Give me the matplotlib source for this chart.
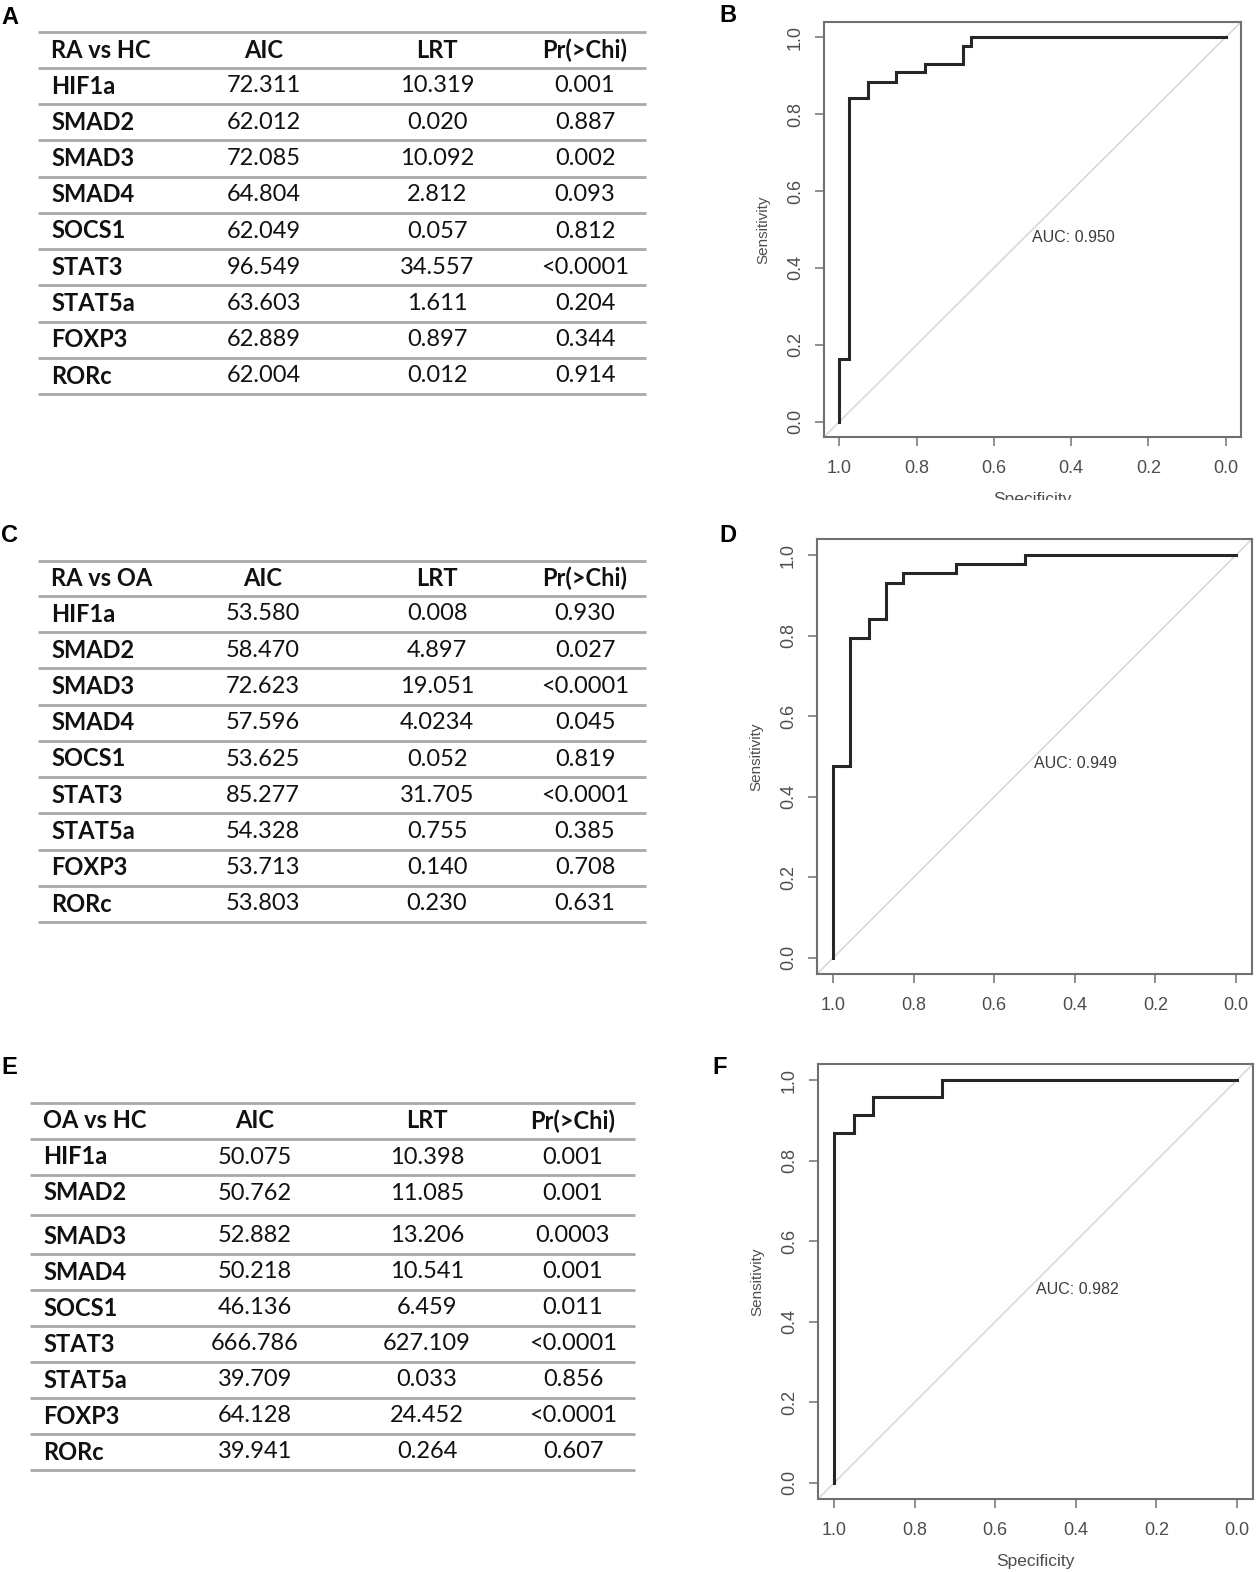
import matplotlib
matplotlib.use("Agg")
import matplotlib.pyplot as plt
from matplotlib.patches import Rectangle

W, H = 1260, 1572

# ---- table data ----
genes = ["HIF1a", "SMAD2", "SMAD3", "SMAD4", "SOCS1", "STAT3", "STAT5a", "FOXP3", "RORc"]
columns = ["AIC", "LRT", "Pr(>Chi)"]

aic_ra_hc = ["72.311", "62.012", "72.085", "64.804", "62.049", "96.549", "63.603", "62.889", "62.004"]
lrt_ra_hc = ["10.319", "0.020", "10.092", "2.812", "0.057", "34.557", "1.611", "0.897", "0.012"]
p_ra_hc = ["0.001", "0.887", "0.002", "0.093", "0.812", "<0.0001", "0.204", "0.344", "0.914"]

aic_ra_oa = ["53.580", "58.470", "72.623", "57.596", "53.625", "85.277", "54.328", "53.713", "53.803"]
lrt_ra_oa = ["0.008", "4.897", "19.051", "4.0234", "0.052", "31.705", "0.755", "0.140", "0.230"]
p_ra_oa = ["0.930", "0.027", "<0.0001", "0.045", "0.819", "<0.0001", "0.385", "0.708", "0.631"]

aic_oa_hc = ["50.075", "50.762", "52.882", "50.218", "46.136", "666.786", "39.709", "64.128", "39.941"]
lrt_oa_hc = ["10.398", "11.085", "13.206", "10.541", "6.459", "627.109", "0.033", "24.452", "0.264"]
p_oa_hc = ["0.001", "0.001", "0.0003", "0.001", "0.011", "<0.0001", "0.856", "<0.0001", "0.607"]

# ---- ROC step curves (specificity, sensitivity) ----
spec_b = [1.0, 1.0, 0.974, 0.974, 0.925, 0.925, 0.853, 0.853, 0.779, 0.779, 0.680, 0.680, 0.659, 0.659, 0.0]
sens_b = [0.0, 0.162, 0.162, 0.842, 0.842, 0.885, 0.885, 0.909, 0.909, 0.931, 0.931, 0.977, 0.977, 1.0, 1.0]
auc_b = 0.950

spec_d = [1.0, 1.0, 0.957, 0.957, 0.912, 0.912, 0.869, 0.869, 0.826, 0.826, 0.695, 0.695, 0.524, 0.524, 0.0]
sens_d = [0.0, 0.476, 0.476, 0.795, 0.795, 0.842, 0.842, 0.931, 0.931, 0.955, 0.955, 0.977, 0.977, 1.0, 1.0]
auc_d = 0.949

spec_f = [1.0, 1.0, 0.951, 0.951, 0.903, 0.903, 0.733, 0.733, 0.0]
sens_f = [0.0, 0.869, 0.869, 0.913, 0.913, 0.957, 0.957, 1.0, 1.0]
auc_f = 0.982

fig = plt.figure(figsize=(W / 100, H / 100), dpi=100)
fig.patch.set_facecolor("white")

# full-figure overlay in pixel units for tables and panel letters
base = fig.add_axes([0, 0, 1, 1])
base.set_xlim(0, W)
base.set_ylim(H, 0)
base.axis("off")

tfont = "Lato"
tsize = 17
line_col = "#a8a8a8"
txt_col = "#111111"


def draw_table(title, aic, lrt, pval, left, right, top, header_y, row_y, col_x, gap_after=None):
    lines = [top]
    base.text(col_x[0], header_y, title, ha="left", va="center", fontsize=tsize,
              fontweight="bold", family=tfont, color=txt_col)
    for cx, name in zip(col_x[1:], columns):
        base.text(cx, header_y, name, ha="center", va="center", fontsize=tsize,
                  fontweight="bold", family=tfont, color=txt_col)
    step = row_y[1] - row_y[0]
    y = row_y[0]
    prev = header_y
    for i, g in enumerate(genes):
        lines.append((prev + y) / 2)
        base.text(col_x[0], y, g, ha="left", va="center", fontsize=tsize,
                  fontweight="bold", family=tfont, color=txt_col)
        for cx, v in zip(col_x[1:], [aic[i], lrt[i], pval[i]]):
            base.text(cx, y, v, ha="center", va="center", fontsize=tsize,
                      family=tfont, color=txt_col)
        prev = y
        y += step
        if gap_after is not None and i == gap_after:
            y += 7
    lines.append(prev + step / 2)
    base.hlines(lines, left, right, color=line_col, lw=2)


draw_table("RA vs HC", aic_ra_hc, lrt_ra_hc, p_ra_hc, 38, 646, 32, 50, [86, 122.25],
           [51, 264, 437, 585])
draw_table("RA vs OA", aic_ra_oa, lrt_ra_oa, p_ra_oa, 38, 646, 561, 578, [614, 650.25],
           [51, 263, 437, 585])
draw_table("OA vs HC", aic_oa_hc, lrt_oa_hc, p_oa_hc, 30, 635, 1103, 1121, [1157, 1193],
           [43, 255, 427, 573], gap_after=1)

for letter, x, y in [("A", 1, 18), ("B", 719, 15), ("C", 1, 535),
                     ("D", 719, 535), ("E", 1, 1068), ("F", 712, 1068)]:
    base.text(x, y, letter, ha="left", va="center", fontsize=17, fontweight="bold",
              family="Liberation Sans", color="black")

# ---- ROC panels ----
rfont = "Liberation Sans"
tick_col = "#4d4d4d"


def roc_panel(box, spec, sens, auc, xlabel=True):
    l, r, t, b = box
    ax = fig.add_axes([l / W, 1 - b / H, (r - l) / W, (b - t) / H])
    ax.set_xlim(1.04, -0.04)
    ax.set_ylim(-0.04, 1.04)
    ax.axline((1, 0), (0, 1), color="#d6d6d6", lw=1.1, zorder=1)
    ax.plot(spec, sens, color="#262626", lw=2.2, zorder=3, solid_joinstyle="miter")
    ax.text(0.5, 0.5, "AUC: %.3f" % auc, ha="left", va="top", fontsize=11.5,
            family=rfont, color="#3a3a3a")
    ticks = [1.0, 0.8, 0.6, 0.4, 0.2, 0.0]
    ax.set_xticks(ticks)
    ax.set_xticklabels(["%.1f" % v for v in ticks])
    ax.set_yticks(ticks[::-1])
    ax.set_yticklabels(["%.1f" % v for v in ticks[::-1]], rotation=90, va="center")
    ax.tick_params(direction="out", length=6.5, width=1.1, colors="#707070",
                   labelcolor=tick_col, labelsize=13)
    ax.tick_params(axis="x", pad=10)
    ax.tick_params(axis="y", pad=8)
    for lab in ax.get_xticklabels() + ax.get_yticklabels():
        lab.set_family(rfont)
    for s in ax.spines.values():
        s.set_color("#707070")
        s.set_linewidth(1.5)
    ax.set_ylabel("Sensitivity", fontsize=11, family=rfont, color=tick_col, labelpad=12)
    if xlabel:
        ax.set_xlabel("Specificity", fontsize=12.5, family=rfont, color=tick_col, labelpad=11)
    return ax


roc_panel((824, 1241, 22, 437), spec_b, sens_b, auc_b)
roc_panel((817, 1252, 539, 974), spec_d, sens_d, auc_d, xlabel=False)
roc_panel((818, 1253, 1064, 1499), spec_f, sens_f, auc_f)

# panel B's axis title is cut off at the bottom in the source figure
fig.add_artist(Rectangle((940 / W, 1 - 525 / H), 200 / W, 25 / H, transform=fig.transFigure,
                         facecolor="white", edgecolor="none", zorder=10))

fig.savefig("out.png", dpi=100, facecolor="white")
